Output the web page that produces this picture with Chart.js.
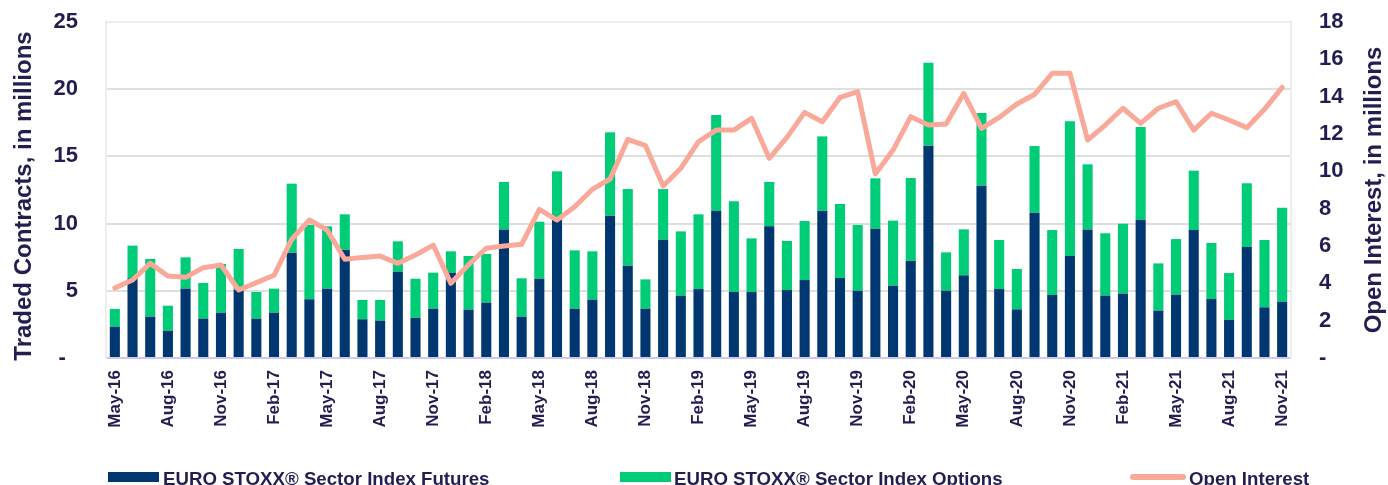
<!DOCTYPE html>
<html>
<head>
<meta charset="utf-8">
<script src="https://cdn.jsdelivr.net/npm/chart.js@4.4.1/dist/chart.umd.min.js"></script>
<style>
  html, body { margin: 0; padding: 0; background: #ffffff; overflow: hidden; }
  #wrap { position: relative; width: 1388px; height: 485px; overflow: hidden; }
  #c { position: absolute; left: 0; top: 0; }
  .lg { position: absolute; top: 0; height: 485px; }
  .lg .box { position: absolute; }
  .lg .txt { position: absolute; font: bold 18.67px "Liberation Sans", Arial, sans-serif; line-height: 18.67px; color: #221e52; white-space: nowrap; }
</style>
</head>
<body>
<div id="wrap">
  <canvas id="c" width="1388" height="485"></canvas>
  <div class="lg"><div class="box" style="left:108px;top:472px;width:51px;height:10px;background:#003770"></div><div class="txt" style="left:163px;top:469.6px">EURO STOXX® Sector Index Futures</div></div>
  <div class="lg"><div class="box" style="left:620px;top:472px;width:51px;height:10px;background:#00cc78"></div><div class="txt" style="left:674px;top:469.6px">EURO STOXX® Sector Index Options</div></div>
  <div class="lg"><div class="box" style="left:1130px;top:473.5px;width:56px;height:6px;border-radius:3px;background:#f9a89a"></div><div class="txt" style="left:1189px;top:469.6px">Open Interest</div></div>
</div>
<script>
const months = [
  'May-16','Jun-16','Jul-16','Aug-16','Sep-16','Oct-16','Nov-16','Dec-16',
  'Jan-17','Feb-17','Mar-17','Apr-17','May-17','Jun-17','Jul-17','Aug-17','Sep-17','Oct-17','Nov-17','Dec-17',
  'Jan-18','Feb-18','Mar-18','Apr-18','May-18','Jun-18','Jul-18','Aug-18','Sep-18','Oct-18','Nov-18','Dec-18',
  'Jan-19','Feb-19','Mar-19','Apr-19','May-19','Jun-19','Jul-19','Aug-19','Sep-19','Oct-19','Nov-19','Dec-19',
  'Jan-20','Feb-20','Mar-20','Apr-20','May-20','Jun-20','Jul-20','Aug-20','Sep-20','Oct-20','Nov-20','Dec-20',
  'Jan-21','Feb-21','Mar-21','Apr-21','May-21','Jun-21','Jul-21','Aug-21','Sep-21','Oct-21','Nov-21'
];
// Traded contracts, millions
const futures = [
  2.33,5.93,3.07,2.03,5.16,2.93,3.37,5.08,
  2.93,3.37,7.84,4.37,5.16,8.04,2.88,2.78,6.42,2.98,3.67,6.35,
  3.60,4.12,9.57,3.07,5.90,10.27,3.67,4.34,10.59,6.87,3.67,8.80,
  4.64,5.13,10.96,4.91,4.91,9.80,5.06,5.80,10.96,5.95,5.01,9.62,
  5.38,7.24,15.80,5.01,6.15,12.82,5.13,3.62,10.81,4.69,7.59,9.57,
  4.64,4.79,10.29,3.52,4.71,9.52,4.39,2.85,8.26,3.77,4.19
];
const options = [
  1.32,2.43,4.30,1.86,2.33,2.65,3.63,3.03,
  1.98,1.79,5.13,5.53,4.64,2.65,1.44,1.54,2.26,2.92,2.68,1.59,
  3.99,3.62,3.53,2.86,4.24,3.62,4.34,3.60,6.20,5.70,2.18,3.77,
  4.78,5.56,7.12,6.75,3.99,3.30,3.65,4.39,5.53,5.51,4.89,3.75,
  4.84,6.15,6.17,2.85,3.42,5.41,3.65,3.00,4.96,4.83,10.02,4.84,
  4.64,5.20,6.90,3.52,4.14,4.42,4.17,3.47,4.74,5.01,6.99
];
// Open interest, millions
const openInterest = [
  3.75,4.18,5.07,4.39,4.32,4.84,4.98,3.64,
  4.04,4.43,6.36,7.39,6.86,5.29,5.39,5.46,5.07,5.52,6.05,4.00,
  5.00,5.88,6.00,6.09,7.96,7.39,8.10,9.04,9.59,11.71,11.38,9.21,
  10.16,11.59,12.21,12.21,12.84,10.70,11.82,13.16,12.66,13.96,14.27,9.86,
  11.14,12.93,12.48,12.54,14.18,12.30,12.89,13.61,14.12,15.25,15.25,11.68,
  12.48,13.38,12.57,13.38,13.73,12.21,13.11,12.75,12.34,13.32,14.50
];
const seriesNames = ['EURO STOXX® Sector Index Futures','EURO STOXX® Sector Index Options','Open Interest'];
const leftTitle = 'Traded Contracts, in millions';
const rightTitle = 'Open Interest, in millions';

const TXT = '#221e52';
const FONT = '"Liberation Sans", Arial, sans-serif';

const titlesPlugin = {
  id: 'axisTitles',
  afterDraw(chart) {
    const ctx = chart.ctx;
    const a = chart.chartArea;
    ctx.save();
    ctx.fillStyle = TXT;
    ctx.font = 'bold 24px ' + FONT;
    ctx.textAlign = 'center';
    ctx.textBaseline = 'middle';
    ctx.save();
    ctx.translate(24, 196);
    ctx.rotate(-Math.PI / 2);
    ctx.fillText(leftTitle, 0, 0);
    ctx.restore();
    ctx.save();
    ctx.translate(1374, (a.top + a.bottom) / 2);
    ctx.rotate(-Math.PI / 2);
    ctx.fillText(rightTitle, 0, 0);
    ctx.restore();
    ctx.restore();
  }
};

function fixV(width) {
  return function(s) { s.width = width; s.paddingTop = 0; s.paddingBottom = 0; };
}

new Chart(document.getElementById('c'), {
  data: {
    labels: months,
    datasets: [
      { type: 'line', label: seriesNames[2], data: openInterest, yAxisID: 'y1', order: 0,
        borderColor: '#f9a89a', backgroundColor: '#f9a89a', borderWidth: 5, pointRadius: 0,
        tension: 0, borderJoinStyle: 'round', borderCapStyle: 'round' },
      { type: 'bar', label: seriesNames[0], data: futures, yAxisID: 'y', order: 1,
        backgroundColor: '#003770', stack: 's', barPercentage: 0.57, categoryPercentage: 1 },
      { type: 'bar', label: seriesNames[1], data: options, yAxisID: 'y', order: 1,
        backgroundColor: '#00cc78', stack: 's', barPercentage: 0.57, categoryPercentage: 1 }
    ]
  },
  options: {
    responsive: false,
    animation: false,
    layout: { padding: { top: 22, left: 0, right: 0, bottom: 0 } },
    plugins: { legend: { display: false }, tooltip: { enabled: false } },
    scales: {
      x: {
        stacked: true,
        grid: { display: false, drawTicks: false },
        border: { display: true, color: '#cdc9ee', width: 2 },
        ticks: {
          autoSkip: false, maxRotation: 90, minRotation: 90, padding: 12,
          color: TXT, font: { family: FONT, size: 17, weight: 'bold' },
          callback: function(v, i) { return i % 3 === 0 ? months[i] : ''; }
        },
        afterFit(s) { s.height = 127; s.paddingLeft = 0; s.paddingRight = 0; }
      },
      y: {
        position: 'left', stacked: true, min: 0, max: 25,
        grid: { drawTicks: false, lineWidth: 2,
          color: (c) => c.tick.value === 0 ? 'rgba(0,0,0,0)' : (c.tick.value === 25 ? '#ededed' : '#dfdfdf') },
        border: { display: true, color: '#eeeeee', width: 2 },
        ticks: { stepSize: 5, padding: 28, color: TXT, font: { family: FONT, size: 22, weight: 'bold' },
          callback: (v) => v === 0 ? '-  ' : String(v) },
        afterFit: fixV(106)
      },
      y1: {
        position: 'right', min: 0, max: 18,
        grid: { display: false, drawTicks: false },
        border: { display: true, color: '#eeeeee', width: 2 },
        ticks: { stepSize: 2, padding: 28, color: TXT, font: { family: FONT, size: 22, weight: 'bold' },
          callback: (v) => v === 0 ? '-' : String(v) },
        afterFit: fixV(97)
      }
    }
  },
  plugins: [titlesPlugin]
});
</script>
</body>
</html>
